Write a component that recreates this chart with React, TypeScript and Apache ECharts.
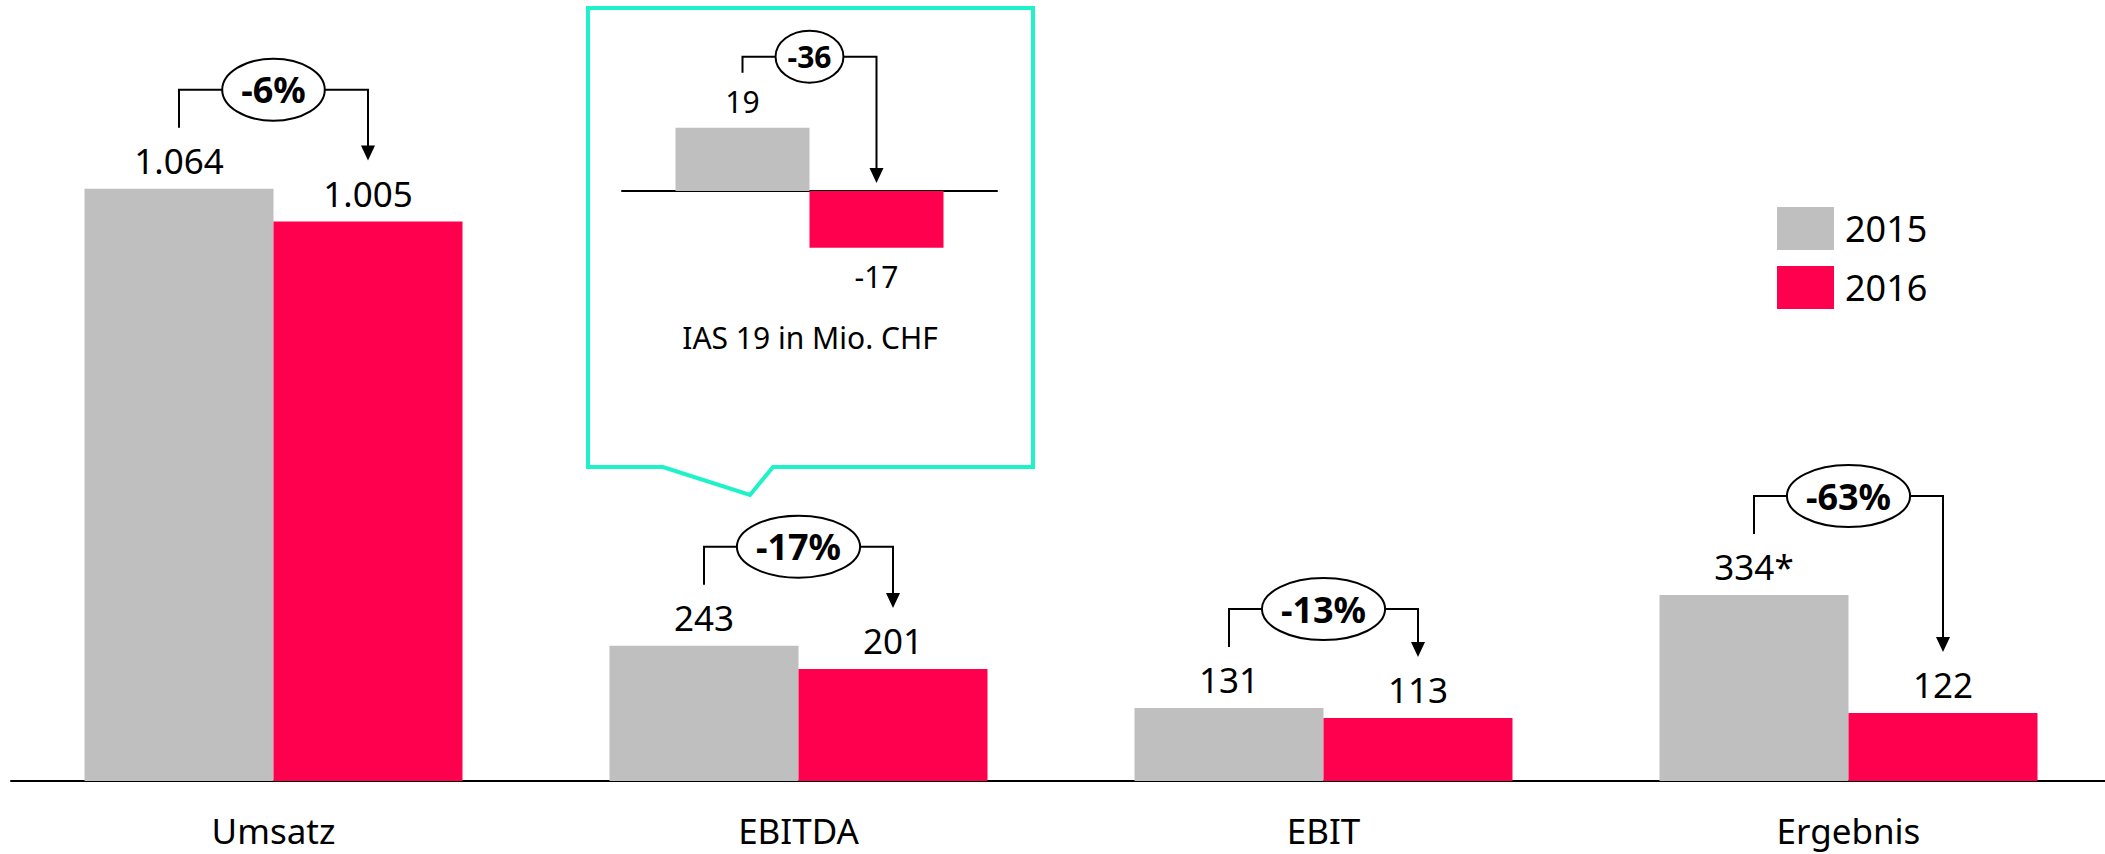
import React, { useEffect, useRef } from "react";
import * as echarts from "echarts";

const categories = ["Umsatz", "EBITDA", "EBIT", "Ergebnis"];
const values2015 = [1064, 243, 131, 334];
const values2016 = [1005, 201, 113, 122];
const labels2015 = ["1.064", "243", "131", "334*"];
const labels2016 = ["1.005", "201", "113", "122"];
const changes = ["-6%", "-17%", "-13%", "-63%"];

const insetCategories = ["IAS 19"];
const ias2015 = [19];
const ias2016 = [-17];
const iasChange = ["-36"];
const iasTitle = "IAS 19 in Mio. CHF";

const GRAY = "#BFBFBF";
const RED = "#FF004F";
const TEAL = "#1EF2C8";
const FONT = '"Noto Sans", sans-serif';

export default function App() {
  const ref = useRef<HTMLDivElement>(null);
  useEffect(() => {
    if (!ref.current) return;
    const chart = echarts.init(ref.current, null, { renderer: "svg" });
    const ctx = document.createElement("canvas").getContext("2d")!;
    const measure = (t: string, f: string) => {
      ctx.font = f;
      return ctx.measureText(t).width;
    };

    const makeBracket = (
      texts: string[],
      fontSize: number,
      barW: number,
      rxPad: number,
      ry: number,
      hOff: number,
      leftOff: number,
      tipOff: number
    ) => (params: any, api: any) => {
      const i = api.value(0);
      const a = api.value(1);
      const b = api.value(2);
      const [cx, yA] = api.coord([i, a]);
      const yTop = api.coord([i, Math.max(a, b, 0)])[1];
      const yB = api.coord([i, Math.max(b, 0)])[1];
      const gx = cx - barW / 2;
      const rx = cx + barW / 2;
      const H = yTop - hOff;
      const leftBottom = yA - leftOff;
      const tip = yB - tipOff;
      const font = `bold ${fontSize}px ${FONT}`;
      const text = texts[params.dataIndex];
      const w = measure(text, font);
      const ecx = (gx + rx) / 2;
      return {
        type: "group",
        children: [
          {
            type: "polyline",
            shape: {
              points: [
                [gx, leftBottom],
                [gx, H],
                [rx, H],
                [rx, tip - 14],
              ],
            },
            style: { stroke: "#000", lineWidth: 2, fill: null },
          },
          {
            type: "polygon",
            shape: {
              points: [
                [rx - 7, tip - 15],
                [rx + 7, tip - 15],
                [rx, tip],
              ],
            },
            style: { fill: "#000" },
          },
          {
            type: "ellipse",
            shape: { cx: ecx, cy: H, rx: w / 2 + rxPad, ry },
            style: { fill: "#fff", stroke: "#000", lineWidth: 2 },
          },
          {
            type: "text",
            style: {
              text,
              x: ecx,
              y: H,
              font,
              fill: "#000",
              align: "center",
              verticalAlign: "middle",
              textAlign: "center",
              textVerticalAlign: "middle",
            },
          },
        ],
      };
    };

    const mainLabel = (arr: string[]) => ({
      show: true,
      position: "top",
      distance: 11,
      formatter: (p: any) => arr[p.dataIndex],
      fontSize: 35,
      fontFamily: FONT,
      color: "#000",
    });

    chart.setOption({
      animation: false,
      backgroundColor: "#fff",
      grid: [
        { left: 11, width: 2100, top: 113, height: 668 },
        { left: 622, width: 375, top: 91, height: 200 },
      ],
      xAxis: [
        {
          type: "category",
          gridIndex: 0,
          data: categories,
          axisLine: { lineStyle: { color: "#000", width: 2 } },
          axisTick: { show: false },
          axisLabel: { fontSize: 35, fontFamily: FONT, color: "#000", margin: 32 },
        },
        {
          type: "category",
          gridIndex: 1,
          data: insetCategories,
          axisLine: { onZero: true, lineStyle: { color: "#000", width: 2 } },
          axisTick: { show: false },
          axisLabel: { show: false },
        },
      ],
      yAxis: [
        { type: "value", gridIndex: 0, min: 0, max: 1200, show: false, splitLine: { show: false } },
        { type: "value", gridIndex: 1, min: -30, max: 30, show: false, splitLine: { show: false } },
      ],
      legend: {
        data: ["2015", "2016"],
        orient: "vertical",
        left: 1777,
        top: 207,
        padding: 0,
        itemWidth: 57,
        itemHeight: 43,
        itemGap: 16,
        icon: "rect",
        textStyle: { fontSize: 36, fontFamily: FONT, color: "#000", padding: [0, 0, 0, 6] },
      },
      graphic: [
        {
          type: "polygon",
          shape: {
            points: [
              [588, 8],
              [1033, 8],
              [1033, 467],
              [773, 467],
              [750, 495],
              [663, 467],
              [588, 467],
            ],
          },
          style: { fill: "transparent", stroke: TEAL, lineWidth: 4 },
          silent: true,
        },
        {
          type: "text",
          x: 810,
          y: 337,
          style: {
            text: iasTitle,
            font: `30px ${FONT}`,
            fill: "#000",
            align: "center",
            verticalAlign: "middle",
            textAlign: "center",
            textVerticalAlign: "middle",
          },
        },
      ],
      series: [
        {
          name: "2015",
          type: "bar",
          data: values2015,
          barWidth: 189,
          barGap: "0%",
          itemStyle: { color: GRAY },
          label: mainLabel(labels2015),
        },
        {
          name: "2016",
          type: "bar",
          data: values2016,
          barWidth: 189,
          barGap: "0%",
          itemStyle: { color: RED },
          label: mainLabel(labels2016),
        },
        {
          name: "change",
          type: "custom",
          data: categories.map((_, i) => [i, values2015[i], values2016[i]]),
          encode: { x: 0, y: 1 },
          renderItem: makeBracket(changes, 36, 189, 19, 31, 99, 61, 61),
          z: 5,
        },
        {
          name: "2015",
          type: "bar",
          xAxisIndex: 1,
          yAxisIndex: 1,
          data: ias2015,
          barWidth: 134,
          barGap: "0%",
          itemStyle: { color: GRAY },
          label: {
            show: true,
            position: "top",
            distance: 11,
            fontSize: 30,
            fontFamily: FONT,
            color: "#000",
          },
        },
        {
          name: "2016",
          type: "bar",
          xAxisIndex: 1,
          yAxisIndex: 1,
          data: ias2016,
          barWidth: 134,
          barGap: "0%",
          itemStyle: { color: RED },
          label: {
            show: true,
            position: "bottom",
            distance: 14,
            fontSize: 30,
            fontFamily: FONT,
            color: "#000",
          },
        },
        {
          name: "iasChange",
          type: "custom",
          xAxisIndex: 1,
          yAxisIndex: 1,
          data: insetCategories.map((_, i) => [i, ias2015[i], ias2016[i]]),
          encode: { x: 0, y: 1 },
          renderItem: makeBracket(iasChange, 30, 134, 12, 26, 71, 55, 8),
          z: 5,
        },
      ],
    });
    return () => chart.dispose();
  }, []);

  return (
    <div
      style={{
        position: "absolute",
        left: 0,
        top: 0,
        width: 2105,
        height: 854,
        overflow: "hidden",
        background: "#fff",
      }}
    >
      <div ref={ref} style={{ width: 2112, height: 854 }} />
    </div>
  );
}
